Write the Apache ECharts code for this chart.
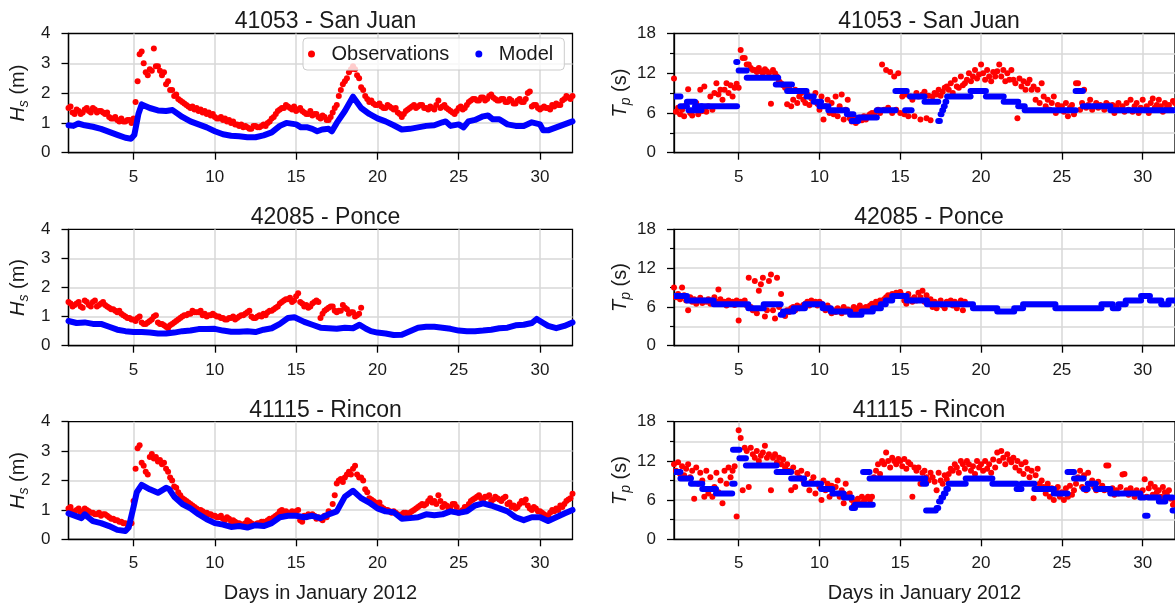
<!DOCTYPE html>
<html><head><meta charset="utf-8">
<script src="https://cdn.jsdelivr.net/npm/echarts@6/dist/echarts.min.js"></script>
<style>html,body{margin:0;padding:0;background:#fff}#c{width:1175px;height:611px}</style>
</head><body><div id="c"></div>
<script>
const FONT = "'Liberation Sans', Arial, sans-serif";
const stationTitles = ['41053 - San Juan', '42085 - Ponce', '41115 - Rincon'];
const xTickDays = [5, 10, 15, 20, 25, 30];
const xAxisTitle = 'Days in January 2012';
const legendNames = ['Observations', 'Model'];

// Observations sampled from day 1 with a fixed step (days)
const HS_OBS_STEP = 0.125;
const TP_OBS_STEP = 0.125;

// ---- Significant wave height, observations (m), 8 readings per day ----
const sjHsObs = [
 1.5,1.55,1.35,1.3,1.45,1.4,1.3,1.35,
 1.45,1.5,1.4,1.35,1.5,1.45,1.35,1.4,
 1.4,1.35,1.3,1.35,1.2,1.15,1.15,1.2,
 1.1,1.05,1.15,1.05,1.05,1.1,1.1,1.0,
 1.15,1.7,2.4,3.3,3.4,3.0,2.7,2.6,
 2.8,2.75,3.5,2.9,2.9,2.75,2.6,2.7,
 2.3,2.4,2.1,2.1,1.9,1.95,1.8,1.75,
 1.7,1.65,1.6,1.55,1.5,1.55,1.45,1.5,
 1.4,1.45,1.35,1.4,1.3,1.35,1.25,1.3,
 1.2,1.15,1.15,1.2,1.1,1.15,1.05,1.1,
 1.0,1.05,0.95,0.95,0.9,0.95,0.85,0.9,
 0.85,0.8,0.8,0.9,0.9,0.85,0.85,0.9,
 0.95,0.9,1.0,1.05,1.15,1.2,1.3,1.4,
 1.45,1.5,1.5,1.6,1.55,1.5,1.45,1.55,
 1.4,1.45,1.5,1.4,1.35,1.3,1.3,1.4,
 1.25,1.3,1.3,1.2,1.15,1.25,1.2,1.1,
 1.1,1.2,1.35,1.5,1.6,1.9,2.1,2.3,
 2.4,2.5,2.7,2.8,2.9,2.8,2.6,2.5,
 2.2,2.1,1.9,1.8,1.7,1.75,1.65,1.6,
 1.6,1.65,1.55,1.5,1.5,1.6,1.55,1.5,
 1.45,1.5,1.35,1.3,1.2,1.3,1.4,1.45,
 1.5,1.55,1.6,1.5,1.55,1.6,1.6,1.5,
 1.5,1.45,1.55,1.5,1.45,1.6,1.75,1.5,
 1.55,1.6,1.5,1.45,1.4,1.35,1.3,1.4,
 1.5,1.55,1.45,1.5,1.6,1.7,1.75,1.8,
 1.8,1.75,1.75,1.85,1.85,1.75,1.8,1.9,
 1.95,1.85,1.8,1.75,1.75,1.8,1.8,1.7,
 1.7,1.8,1.75,1.65,1.65,1.75,1.8,1.7,
 1.7,1.8,2.0,2.05,1.55,1.6,1.6,1.5,
 1.45,1.5,1.55,1.5,1.5,1.45,1.6,1.55,
 1.65,1.6,1.6,1.75,1.8,1.9,1.85,1.8,
 1.9
];
const pcHsObs = [
 1.5,1.45,1.35,1.4,1.45,1.5,1.35,1.3,
 1.55,1.5,1.4,1.35,1.5,1.55,1.35,1.4,
 1.45,1.5,1.4,1.35,1.3,1.25,1.25,1.2,
 1.15,1.2,1.1,1.05,1.0,0.95,0.95,0.9,
 0.9,0.85,0.95,1.0,0.8,0.75,0.75,0.8,
 0.85,0.9,1.0,1.05,0.8,0.75,0.75,0.7,
 0.65,0.6,0.7,0.75,0.8,0.85,0.9,0.95,
 1.0,1.05,1.05,1.1,1.1,1.2,1.15,1.15,
 1.15,1.2,1.05,1.1,1.0,1.05,1.05,1.1,
 1.05,1.0,1.0,0.95,0.95,0.9,0.9,0.95,
 0.95,1.0,0.9,0.95,1.0,1.05,1.05,1.1,
 1.15,1.2,1.0,0.95,0.95,1.0,1.05,1.0,
 1.1,1.05,1.15,1.2,1.2,1.25,1.3,1.35,
 1.45,1.5,1.55,1.6,1.6,1.65,1.5,1.55,
 1.7,1.8,1.5,1.45,1.35,1.4,1.3,1.35,
 1.45,1.5,1.55,1.5,0.95,1.1,1.2,1.25,
 1.3,1.35,1.35,1.2,1.15,1.2,1.2,1.4,
 1.3,1.25,1.1,1.15,1.15,1.0,1.05,1.1,
 1.3
];
const rnHsObs = [
 1.05,1.1,0.95,0.9,1.0,1.05,0.9,0.95,
 1.05,1.0,0.95,0.9,0.9,0.85,0.85,0.9,
 0.8,0.85,0.85,0.8,0.75,0.7,0.7,0.65,
 0.65,0.6,0.6,0.55,0.55,0.5,0.5,0.55,
 1.3,2.4,3.1,3.2,2.6,2.5,2.3,2.2,
 2.8,2.9,2.75,2.8,2.65,2.7,2.55,2.6,
 2.4,2.3,2.1,2.0,1.8,1.75,1.6,1.5,
 1.4,1.35,1.3,1.25,1.2,1.15,1.1,1.05,
 1.0,1.0,0.95,0.9,0.9,0.85,0.85,0.8,
 0.8,0.75,0.75,0.8,0.7,0.65,0.75,0.7,
 0.6,0.65,0.6,0.55,0.55,0.5,0.5,0.55,
 0.65,0.6,0.55,0.5,0.5,0.55,0.55,0.6,
 0.6,0.55,0.65,0.7,0.7,0.75,0.8,0.85,
 0.95,1.0,0.9,0.95,0.9,0.85,0.95,0.9,
 0.95,1.0,0.65,0.6,0.8,0.75,0.85,0.8,
 0.85,0.8,0.7,0.75,0.7,0.65,0.8,0.75,
 0.95,0.9,1.2,1.5,1.9,2.0,2.05,1.95,
 2.1,2.2,2.3,2.2,2.4,2.5,2.2,2.1,
 2.1,2.0,1.7,1.6,1.4,1.35,1.3,1.25,
 1.2,1.25,1.1,1.05,1.0,1.0,0.95,0.9,
 0.95,0.9,0.85,0.8,0.85,0.9,0.9,0.85,
 0.9,0.95,1.0,1.05,1.1,1.15,1.2,1.15,
 1.2,1.3,1.4,1.25,1.3,1.2,1.5,1.3,
 1.1,1.2,1.15,1.05,1.1,1.2,1.2,1.1,
 0.9,0.95,1.0,1.1,1.1,1.2,1.3,1.35,
 1.4,1.45,1.5,1.4,1.35,1.45,1.45,1.5,
 1.3,1.35,1.45,1.4,1.35,1.3,1.4,1.45,
 1.2,1.25,1.1,1.15,1.05,1.1,1.2,1.3,
 1.25,1.35,1.15,1.05,1.0,1.1,1.05,0.95,
 0.95,0.9,0.85,0.8,0.8,0.9,1.0,0.95,
 1.05,1.0,1.15,1.1,1.2,1.3,1.35,1.4,
 1.55
];

// ---- Significant wave height, model [day, m] ----
const sjHsModel = [[1,0.92],[1.3,0.9],[1.6,0.98],[2,0.92],[2.5,0.87],[3,0.8],[3.5,0.7],[4,0.6],[4.5,0.5],[4.85,0.47],[5.05,0.6],[5.3,1.3],[5.5,1.62],[6,1.5],[6.5,1.42],[7,1.4],[7.4,1.43],[8,1.2],[8.5,1.05],[9,0.95],[9.5,0.85],[10,0.72],[10.5,0.62],[11,0.57],[11.5,0.55],[12,0.52],[12.5,0.52],[13,0.58],[13.5,0.68],[14,0.9],[14.4,1.0],[15,0.95],[15.3,0.85],[15.7,0.85],[16,0.8],[16.3,0.72],[16.6,0.78],[17,0.8],[17.2,0.72],[17.5,1.0],[18,1.4],[18.5,1.88],[19,1.5],[19.5,1.3],[20,1.15],[20.5,1.05],[21,0.92],[21.5,0.78],[22,0.8],[22.5,0.85],[23,0.9],[23.5,0.92],[24,1.02],[24.2,1.05],[24.5,0.9],[25,0.95],[25.3,0.85],[25.6,1.05],[26,1.1],[26.5,1.22],[26.8,1.25],[27.1,1.12],[27.5,1.12],[28,0.95],[28.5,0.9],[29,0.9],[29.5,1.02],[30,0.95],[30.2,0.75],[30.5,0.75],[31,0.85],[31.5,0.95],[32,1.05]];
const pcHsModel = [[1,0.85],[1.5,0.78],[2,0.8],[2.5,0.75],[3,0.75],[3.5,0.65],[4,0.55],[4.5,0.5],[5,0.47],[5.5,0.47],[6,0.45],[6.5,0.42],[7,0.42],[7.5,0.45],[8,0.5],[8.5,0.52],[9,0.57],[9.5,0.57],[10,0.58],[10.5,0.52],[11,0.48],[11.5,0.48],[12,0.5],[12.5,0.47],[13,0.55],[13.5,0.6],[14,0.75],[14.5,0.95],[14.9,0.98],[15.5,0.82],[16,0.72],[16.5,0.62],[17,0.6],[17.5,0.58],[18,0.62],[18.5,0.6],[18.9,0.72],[19.3,0.58],[19.6,0.5],[20,0.45],[20.5,0.42],[21,0.37],[21.5,0.38],[22,0.5],[22.5,0.62],[23,0.65],[23.5,0.65],[24,0.62],[24.5,0.58],[25,0.52],[25.5,0.5],[26,0.5],[26.5,0.52],[27,0.55],[27.5,0.6],[28,0.62],[28.5,0.7],[29,0.72],[29.5,0.78],[29.8,0.92],[30.2,0.78],[30.5,0.68],[31,0.6],[31.5,0.68],[32,0.8]];
const rnHsModel = [[1,0.88],[1.5,0.78],[1.8,0.72],[2,0.85],[2.2,0.75],[2.5,0.62],[3,0.55],[3.5,0.45],[4,0.32],[4.5,0.28],[4.7,0.4],[5,1.1],[5.2,1.6],[5.5,1.85],[6,1.7],[6.5,1.58],[7,1.75],[7.2,1.7],[7.5,1.45],[8,1.2],[8.5,1.05],[9,0.85],[9.5,0.68],[10,0.55],[10.5,0.5],[11,0.42],[11.5,0.45],[12,0.4],[12.5,0.48],[13,0.45],[13.5,0.55],[14,0.75],[14.5,0.8],[15,0.8],[15.5,0.75],[16,0.8],[16.5,0.72],[17,0.85],[17.5,0.95],[18,1.45],[18.5,1.65],[19,1.4],[19.5,1.25],[20,1.05],[20.5,0.95],[21,0.92],[21.5,0.7],[22,0.72],[22.5,0.75],[23,0.85],[23.5,0.82],[24,0.85],[24.5,0.95],[25,0.9],[25.5,0.95],[26,1.15],[26.5,1.22],[27,1.15],[27.5,1.05],[28,0.95],[28.5,0.75],[29,0.65],[29.5,0.75],[30,0.75],[30.5,0.62],[31,0.75],[31.5,0.88],[32,1.0]];

// ---- Peak period, observations (s), 8 readings per day ----
const sjTpObs = [
 11.2,6.2,6.8,5.8,6.5,5.5,7.2,9.6,
 6.0,5.6,6.4,7.5,5.8,9.5,6.3,10.0,
 6.2,7.0,8.5,6.5,9.0,10.5,8.8,9.5,
 8.0,9.5,10.5,9.0,10.2,8.5,9.8,10.4,
 9.8,15.5,14.3,14.3,13.3,13.3,12.8,12.5,
 12.5,12.2,12.8,12.3,12.0,12.6,12.3,12.0,
 7.4,12.5,12.0,11.5,10.8,10.5,10.2,9.8,
 7.3,10.0,7.0,8.0,9.5,7.5,8.5,9.0,
 8.0,7.5,8.8,7.2,8.2,7.8,9.0,7.4,
 6.5,8.5,5.0,7.0,8.0,6.0,7.5,5.8,
 8.5,5.5,7.0,8.8,5.0,6.5,8.0,5.2,
 4.7,5.2,4.5,5.0,5.3,4.9,5.5,5.0,
 5.5,5.8,6.0,5.7,6.2,6.5,6.0,13.3,
 6.5,12.5,6.8,12.2,6.0,11.5,6.5,12.0,
 6.0,8.5,5.8,8.8,5.5,8.5,8.0,5.5,
 9.0,8.5,5.0,8.8,9.2,5.2,8.6,4.9,
 8.5,9.0,8.8,9.5,8.6,9.2,9.8,10.0,
 9.5,10.5,9.0,11.0,10.0,9.8,11.5,10.2,
 10.5,11.0,12.0,10.8,11.5,12.5,11.2,11.8,
 13.3,12.0,11.0,12.5,11.5,10.8,12.2,11.5,
 12.3,13.3,11.5,12.5,10.8,12.0,11.0,12.5,
 11.0,10.5,5.2,11.2,10.0,10.8,9.5,10.5,
 11.0,9.5,10.0,8.0,9.5,7.5,10.5,8.5,
 7.0,8.0,6.5,7.5,8.5,6.0,7.2,6.5,
 7.0,6.2,7.5,5.5,6.8,7.2,5.8,10.5,
 10.5,6.5,7.5,9.5,6.8,7.2,8.0,6.5,
 7.0,7.5,6.8,7.2,7.0,6.5,7.5,7.2,
 6.8,7.2,6.0,7.0,7.5,6.5,7.0,6.2,
 7.5,6.5,8.0,6.2,7.0,7.5,6.0,6.8,
 8.0,6.5,7.0,6.0,7.5,8.2,6.8,7.2,
 8.0,7.0,6.2,7.5,6.8,7.2,6.5,7.8,
 7.5
];
const pcTpObs = [
 9.0,7.5,8.0,7.2,9.0,7.8,7.0,5.5,
 7.5,6.8,7.2,6.5,7.0,7.4,6.6,7.0,
 6.8,7.2,6.5,7.0,7.5,6.8,8.7,7.2,
 6.5,6.8,6.2,7.0,6.5,6.8,6.3,7.0,
 3.9,6.8,6.5,7.0,6.2,10.5,6.0,5.5,
 10.0,5.0,8.5,9.5,10.5,4.5,5.5,10.0,
 11.0,5.5,4.2,10.5,6.0,8.0,5.2,4.6,
 5.5,5.2,5.8,6.0,5.5,6.2,5.8,6.0,
 6.3,6.5,6.8,6.2,7.0,6.5,6.8,6.2,
 6.8,6.5,6.0,5.5,6.2,5.8,5.0,5.5,
 5.2,5.8,5.5,5.0,6.0,5.3,5.6,5.2,
 5.5,6.0,5.2,5.8,6.2,5.5,5.8,6.0,
 5.8,6.2,6.5,6.0,6.8,6.3,7.0,6.8,
 7.2,7.5,7.8,7.4,8.0,7.6,8.2,7.8,
 8.3,7.8,7.0,6.5,8.0,7.2,6.8,7.5,
 7.0,8.2,7.5,8.5,6.8,7.8,6.5,7.2,
 6.0,6.8,5.8,6.5,7.0,6.2,5.8,6.8,
 6.5,7.0,6.2,6.8,5.8,6.5,7.0,5.5,
 6.8
];
const rnTpObs = [
 11.5,10.5,11.8,10.0,11.2,9.8,10.8,11.5,
 9.5,10.5,6.2,11.0,8.5,10.2,9.0,6.5,
 10.5,7.0,9.5,6.5,8.0,10.2,7.2,9.0,
 5.5,10.5,8.5,11.0,9.5,10.5,11.2,3.5,
 16.7,15.5,7.5,14.0,13.5,8.0,14.0,13.0,
 12.5,13.5,12.0,12.8,13.3,14.3,12.5,13.0,
 7.5,12.5,13.0,11.8,12.5,11.5,12.2,11.0,
 11.5,10.5,7.5,11.0,8.0,10.2,9.5,10.5,
 9.0,8.5,10.0,7.5,8.8,9.5,7.0,8.5,
 8.0,6.0,9.0,7.5,8.5,6.5,8.2,7.0,
 8.0,9.0,6.5,7.5,5.5,8.5,6.8,7.0,
 6.0,5.2,5.8,6.2,5.5,6.5,5.8,6.2,
 6.5,6.0,6.5,9.5,10.5,11.5,10.0,12.0,
 11.5,13.3,12.0,11.0,12.5,12.0,11.5,12.3,
 12.0,11.2,12.3,10.8,11.8,11.5,6.5,11.0,
 10.5,11.0,8.5,10.2,10.5,9.5,9.0,10.2,
 9.5,8.8,7.5,10.2,9.0,8.5,9.8,9.2,
 10.0,10.8,10.5,11.5,11.0,10.2,12.0,11.5,
 10.8,12.0,11.5,10.5,11.2,10.0,12.0,11.0,
 11.5,10.5,12.0,10.8,11.5,10.2,12.2,11.0,
 13.3,12.0,13.5,12.5,11.5,13.0,12.2,11.8,
 12.5,11.0,12.0,10.5,11.5,10.0,11.8,10.8,
 9.5,10.5,6.3,9.8,10.8,8.5,9.0,8.0,
 7.0,8.5,6.5,7.8,6.0,7.5,8.0,6.5,
 7.2,6.0,7.8,6.5,8.2,6.8,7.5,8.5,
 9.5,10.5,8.0,9.8,7.5,10.2,8.5,9.0,
 8.0,7.5,8.8,7.8,8.2,7.5,11.3,11.3,
 7.2,7.8,6.8,7.5,7.0,8.0,9.9,10.0,
 7.5,6.8,7.8,7.2,6.5,7.5,7.0,6.8,
 7.5,9.2,6.5,7.8,8.5,6.8,8.0,7.2,
 7.5,6.5,8.0,7.2,6.8,7.5,6.2,5.3,
 5.8
];

// ---- Peak period, model: [start day, end day, s] ----
const sjTpModel = [[1,1.4,8.5],[1.4,1.8,7.0],[1.8,2.3,7.7],[1.9,2.7,6.4],[2.3,2.7,7.0],[2.7,4.9,7.0],[4.85,4.92,13.7],[5.0,5.5,12.4],[5.5,7.45,11.3],[7.3,8.3,10.3],[8.0,9.2,9.3],[9.2,9.65,8.5],[9.65,10.1,7.7],[10.0,10.55,7.0],[10.55,11.7,6.4],[11.7,12.1,5.8],[12.0,12.4,4.8],[12.4,13.55,5.3],[13.55,14.7,6.4],[14.7,15.4,9.3],[15.3,15.7,6.4],[15.6,16.5,8.5],[16.5,17.35,7.7],[17.35,17.45,4.8],[17.5,17.55,5.8],[17.6,17.65,6.4],[17.7,17.75,7.0],[17.8,17.85,7.7],[17.9,19.35,8.5],[19.35,20.3,9.3],[20.3,21.4,8.5],[21.4,22.3,7.7],[22.3,22.7,7.0],[22.7,25.85,6.4],[25.85,26.3,9.3],[26.3,28.0,7.0],[28.0,32,6.4]];
const pcTpModel = [[1,1.8,7.7],[1.8,3.45,7.0],[3.45,5.6,6.4],[5.6,6.55,5.8],[6.55,7.6,6.4],[7.6,7.75,4.8],[7.75,8.4,5.3],[8.4,9.1,5.8],[9.1,10.2,6.4],[10.2,10.7,5.8],[10.7,11.9,5.3],[11.9,12.6,4.8],[12.6,13.3,5.3],[13.3,13.8,5.8],[13.8,14.1,6.4],[14.1,14.5,7.0],[14.5,15.4,7.7],[15.4,16.65,7.0],[16.65,19.5,6.4],[19.5,21.0,5.8],[21.0,22.05,5.3],[22.05,22.6,5.8],[22.6,24.6,6.4],[24.6,27.45,5.8],[27.45,28.15,6.4],[28.15,28.5,5.8],[28.5,28.95,6.4],[28.95,29.9,7.0],[29.9,30.45,7.7],[30.45,31.15,7.0],[31.15,31.6,6.4],[31.6,32,7.0]];
const rnTpModel = [[1,1.4,10.3],[1.4,2.05,9.3],[2.05,2.75,8.5],[2.75,3.6,7.7],[3.6,4.6,7.0],[4.6,4.75,8.5],[4.65,5.05,13.7],[5.05,5.45,12.4],[5.45,7.35,11.3],[7.35,8.25,10.3],[8.25,9.05,9.3],[9.05,10.1,8.5],[10.1,10.8,7.7],[10.8,11.5,7.0],[11.5,12.0,6.4],[12.0,12.2,4.8],[12.2,13.3,5.3],[12.7,13.1,10.3],[13.1,16.55,9.3],[16.4,16.6,8.5],[16.6,17.2,4.4],[17.25,17.35,4.8],[17.4,17.5,5.8],[17.55,17.65,6.4],[17.7,17.8,7.0],[17.85,17.95,7.7],[18.0,19.05,8.5],[19.05,20.7,9.3],[20.7,22.2,8.5],[22.2,22.5,7.7],[22.5,23.3,8.5],[23.3,24.5,7.7],[24.5,25.35,7.0],[25.35,25.75,10.3],[25.75,26.35,9.3],[26.35,26.6,7.7],[26.6,27.1,8.5],[27.1,28.0,7.7],[28.0,29.85,7.0],[29.85,30.1,6.4],[30.15,30.3,3.6],[30.35,31.0,6.4],[31.0,31.4,5.8],[31.4,31.85,6.4],[31.85,32,4.4]];

const hsObs = [sjHsObs, pcHsObs, rnHsObs];
const hsModel = [sjHsModel, pcHsModel, rnHsModel];
const tpObs = [sjTpObs, pcTpObs, rnTpObs];
const tpModel = [sjTpModel, pcTpModel, rnTpModel];

const RED = '#ff0000', BLUE = '#0000ff', GRIDC = '#d7d7d7', INK = '#1a1a1a';

function obsPairs(arr, step) {
  const out = [];
  arr.forEach((v, i) => { if (v !== null) out.push([1 + i * step, v]); });
  return out;
}

const rowTop = [33.5, 229.3, 421.7];
const rowH = [119.2, 116.4, 117.6];
const colLeft = [68.5, 674];
const colW = 504;

const grids = [], xAxes = [], yAxes = [], series = [], titles = [];
for (let r = 0; r < 3; r++) {
  for (let c = 0; c < 2; c++) {
    const gi = r * 2 + c;
    grids.push({ left: colLeft[c], top: rowTop[r], width: colW, height: rowH[r],
      show: true, borderColor: '#000', borderWidth: 1.3, backgroundColor: 'transparent' });
    titles.push({ text: stationTitles[r], left: colLeft[c] + colW / 2 - (c === 1 ? 2 : 0), top: rowTop[r] - 28,
      textAlign: 'center', textStyle: { fontFamily: FONT, fontSize: 23, fontWeight: 'normal', color: INK } });
    const xa = {
      gridIndex: gi, type: 'value', min: 1, max: 32,
      axisLine: { show: true, onZero: false, lineStyle: { color: '#000', width: 1.3 } },
      axisTick: { show: true, customValues: xTickDays, length: 7, lineStyle: { color: '#000', width: 1.3 } },
      axisLabel: { customValues: xTickDays, margin: 16, fontSize: 17, color: INK, fontFamily: FONT },
      splitLine: { show: true, lineStyle: { color: GRIDC, width: 1.5 } }
    };
    if (r === 2) {
      xa.name = xAxisTitle; xa.nameLocation = 'middle'; xa.nameGap = 44;
      xa.nameTextStyle = { fontSize: 20, color: INK, fontFamily: FONT };
    }
    xAxes.push(xa);
    const ya = {
      gridIndex: gi, type: 'value', min: 0, max: c === 0 ? 4 : 18, interval: c === 0 ? 1 : 6,
      axisLine: { show: true, lineStyle: { color: '#000', width: 1.3 } },
      axisTick: { show: true, length: 7, lineStyle: { color: '#000', width: 1.3 } },
      axisLabel: { margin: 18, fontSize: 17, color: INK, fontFamily: FONT },
      splitLine: { show: true, showMinLine: false, showMaxLine: false, lineStyle: { color: GRIDC, width: 1.5 } },
      name: c === 0 ? '{i|H}{sub|s} (m)' : '{i|T}{sub|p} (s)',
      nameLocation: 'middle', nameRotate: 90, nameGap: c === 0 ? 37 : 40,
      nameTextStyle: { fontSize: 20, color: INK, fontFamily: FONT, lineHeight: 26,
        rich: {
          i: { fontStyle: 'italic', fontSize: 20, fontFamily: FONT, color: INK, lineHeight: 26 },
          sub: { fontStyle: 'italic', fontSize: 14, fontFamily: FONT, color: INK, verticalAlign: 'bottom', lineHeight: 16 }
        } }
    };
    if (c === 1) {
      ya.minorTick = { show: true, splitNumber: 2, length: 4, lineStyle: { color: '#000', width: 1.2 } };
      ya.minorSplitLine = { show: true, lineStyle: { color: GRIDC, width: 1.5 } };
    }
    yAxes.push(ya);
  }
  const gl = r * 2, gr = r * 2 + 1;
  series.push({ name: 'Observations', type: 'scatter', xAxisIndex: gl, yAxisIndex: gl,
    data: obsPairs(hsObs[r], HS_OBS_STEP), symbolSize: 6, itemStyle: { color: RED, opacity: 1 }, z: 2 });
  series.push({ name: 'Model', type: 'line', xAxisIndex: gl, yAxisIndex: gl, data: hsModel[r],
    showSymbol: false, symbol: 'none', clip: true, itemStyle: { color: BLUE },
    lineStyle: { color: BLUE, width: 6, cap: 'round', join: 'round' }, z: 3 });
  series.push({ name: 'Observations', type: 'scatter', xAxisIndex: gr, yAxisIndex: gr,
    data: obsPairs(tpObs[r], TP_OBS_STEP), symbolSize: 6, itemStyle: { color: RED, opacity: 1 }, z: 2 });
  series.push({ name: 'Model', type: 'custom', xAxisIndex: gr, yAxisIndex: gr, data: tpModel[r],
    clip: true, itemStyle: { color: BLUE }, encode: { x: [0, 1], y: 2 }, z: 3,
    renderItem: function (params, api) {
      const a = api.coord([api.value(0), api.value(2)]);
      const b = api.coord([api.value(1), api.value(2)]);
      return { type: 'line', shape: { x1: a[0], y1: a[1], x2: b[0], y2: b[1] },
        style: { stroke: BLUE, lineWidth: 6, lineCap: 'round' } };
    } });
}

const chart = echarts.init(document.getElementById('c'), null, { renderer: 'canvas' });
chart.setOption({
  animation: false,
  backgroundColor: '#fff',
  title: titles,
  grid: grids, xAxis: xAxes, yAxis: yAxes, series: series,
  legend: {
    data: legendNames.map(n => ({ name: n, icon: 'circle' })),
    left: 303, top: 38, orient: 'horizontal',
    itemWidth: 14, itemHeight: 7, itemGap: 26,
    padding: [6, 11, 6, 5],
    backgroundColor: 'rgba(255,255,255,0.8)', borderColor: '#cccccc', borderWidth: 1, borderRadius: 4,
    textStyle: { fontSize: 20, color: INK, fontFamily: FONT, padding: [0, 0, 0, 8] },
    selectedMode: false, z: 10
  }
});
</script>
</body></html>
